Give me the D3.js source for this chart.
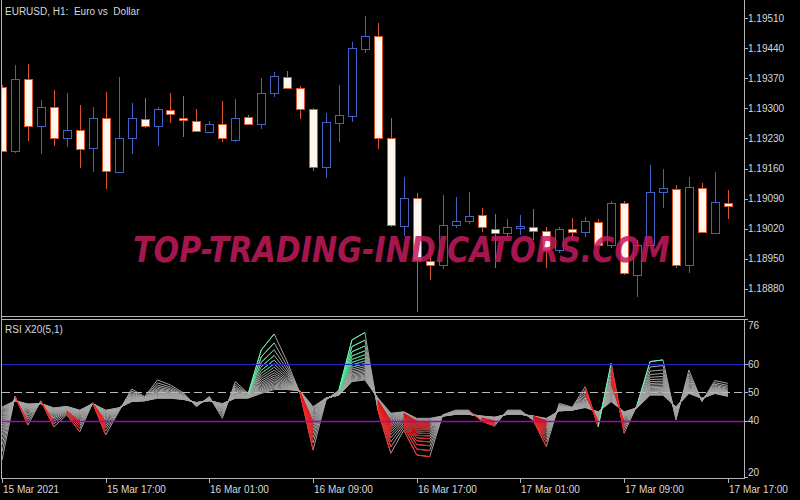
<!DOCTYPE html>
<html>
<meta charset="utf-8">
<style>
  body { margin: 0; background: #000; }
  svg { display: block; width: 800px; height: 500px; background: #000; }
  text { font-family: "Liberation Sans", Arial, sans-serif; font-size: 10px; fill: #d8d8d8; white-space: pre; }
</style>

<body>
  <svg></svg>
</body>

<script src="https://d3js.org/d3.v7.min.js"></script>

<script>

  // EURUSD H1, one entry per bar
  var open  = [1.19350, 1.19201, 1.19368, 1.19259, 1.19303, 1.19231, 1.19249, 1.19208, 1.19277, 1.19152,
               1.19231, 1.19275, 1.19259, 1.19296, 1.19277, 1.19270, 1.19245, 1.19263, 1.19226, 1.19280,
               1.19263, 1.19336, 1.19373, 1.19347, 1.19298, 1.19163, 1.19266, 1.19282, 1.19438, 1.19468,
               1.19231, 1.19026, 1.19091, 1.18945, 1.18936, 1.19029, 1.19038, 1.19052, 1.19019, 1.19010,
               1.19022, 1.19024, 1.19015, 1.18970, 1.19019, 1.19012, 1.19036, 1.18982, 1.19080, 1.18912,
               1.18982, 1.19105, 1.19112, 1.18936, 1.19115, 1.19010, 1.19080];
  var high  = [1.19354, 1.19401, 1.19403, 1.19319, 1.19343, 1.19336, 1.19308, 1.19303, 1.19338, 1.19373,
               1.19312, 1.19324, 1.19303, 1.19336, 1.19329, 1.19298, 1.19270, 1.19317, 1.19322, 1.19284,
               1.19370, 1.19384, 1.19387, 1.19352, 1.19300, 1.19289, 1.19354, 1.19454, 1.19515, 1.19498,
               1.19277, 1.19140, 1.19103, 1.18987, 1.19098, 1.19094, 1.19105, 1.19068, 1.19054, 1.19043,
               1.19052, 1.19066, 1.19024, 1.19024, 1.19045, 1.19047, 1.19043, 1.19084, 1.19084, 1.18994,
               1.19168, 1.19159, 1.19122, 1.19140, 1.19126, 1.19152, 1.19110];
  var low   = [1.19198, 1.19196, 1.19224, 1.19194, 1.19212, 1.19210, 1.19161, 1.19152, 1.19112, 1.19150,
               1.19194, 1.19254, 1.19212, 1.19266, 1.19233, 1.19245, 1.19242, 1.19222, 1.19222, 1.19261,
               1.19252, 1.19326, 1.19345, 1.19275, 1.19154, 1.19138, 1.19222, 1.19268, 1.19429, 1.19205,
               1.19024, 1.19003, 1.18826, 1.18901, 1.18926, 1.19022, 1.19031, 1.19012, 1.18929, 1.19001,
               1.19005, 1.18994, 1.18929, 1.18963, 1.18994, 1.19001, 1.18980, 1.18975, 1.18912, 1.18861,
               1.18980, 1.19068, 1.18929, 1.18917, 1.19010, 1.19008, 1.19043];
  var close = [1.19201, 1.19368, 1.19259, 1.19303, 1.19231, 1.19249, 1.19205, 1.19277, 1.19154, 1.19231,
               1.19277, 1.19259, 1.19298, 1.19287, 1.19273, 1.19247, 1.19263, 1.19231, 1.19277, 1.19263,
               1.19336, 1.19375, 1.19347, 1.19298, 1.19163, 1.19268, 1.19284, 1.19440, 1.19468, 1.19231,
               1.19029, 1.19091, 1.18947, 1.18936, 1.19029, 1.19038, 1.19050, 1.19024, 1.19010, 1.19024,
               1.19026, 1.19015, 1.18970, 1.19019, 1.19012, 1.19038, 1.18982, 1.19080, 1.18917, 1.18982,
               1.19105, 1.19115, 1.18936, 1.19117, 1.19012, 1.19082, 1.19073];

  var priceTicks = [1.18880, 1.18950, 1.19020, 1.19090, 1.19160, 1.19230, 1.19300, 1.19370, 1.19440, 1.19510];

  var timeIdx    = [0, 8, 16, 24, 32, 40, 48, 56];
  var timeLabels = ["15 Mar 2021", "15 Mar 17:00", "16 Mar 01:00", "16 Mar 09:00",
                    "16 Mar 17:00", "17 Mar 01:00", "17 Mar 09:00", "17 Mar 17:00"];

  // RSI X20: the fastest (period 5) and slowest (period 24) lines
  var rsiFast = [26.0, 48.7, 38.4, 47.0, 37.8, 42.0, 36.0, 46.3, 34.9, 43.1,
                 51.2, 48.5, 54.4, 52.6, 49.8, 44.9, 48.5, 40.8, 53.8, 49.6,
                 65.0, 70.7, 60.9, 49.6, 29.6, 47.3, 50.8, 68.6, 71.2, 43.7,
                 28.4, 36.6, 27.8, 27.2, 42.0, 43.7, 43.7, 39.9, 38.0, 43.7,
                 43.7, 40.0, 30.8, 46.1, 44.7, 52.0, 37.8, 60.3, 35.5, 45.5,
                 60.9, 61.5, 40.2, 57.9, 46.7, 54.2, 53.2];
  var rsiSlow = [44.8, 47.0, 45.9, 46.0, 44.5, 45.0, 43.7, 46.0, 43.7, 44.5,
                 46.7, 47.0, 47.9, 47.9, 47.5, 46.4, 47.0, 46.0, 47.9, 48.0,
                 49.6, 51.0, 51.0, 50.5, 44.9, 48.0, 49.0, 53.8, 54.4, 48.0,
                 42.6, 43.1, 40.8, 40.8, 41.6, 42.2, 42.2, 41.6, 41.2, 42.2,
                 42.2, 41.6, 40.8, 43.4, 43.7, 44.6, 43.1, 46.7, 43.1, 44.5,
                 49.0, 49.0, 44.9, 49.6, 47.9, 49.6, 48.6];
  var rsiPeriods = d3.range(5, 25);
  var rsiTicks = [76, 60, 50, 40, 20];
  var rsiLevels = [60, 50, 40];

  var bullCol = "#4262c4", bearCol = "#d9532b", bearFill = "#fff6ee";
  var frameCol = "#b4b4b4";

  var svg = d3.select("svg");

  var x  = d3.scaleLinear().domain([0, 56]).range([2, 727.8]);
  var yP = d3.scaleLinear().domain([1.18880, 1.19510]).range([288.9, 18]);
  var yR = d3.scaleLinear().domain([20, 76]).range([477, 319]);

  var defs = svg.append("defs");
  defs.append("clipPath").attr("id", "clipMain").append("rect")
    .attr("x", 2).attr("y", 0).attr("width", 742).attr("height", 316);
  defs.append("clipPath").attr("id", "clipInd").append("rect")
    .attr("x", 2).attr("y", 320).attr("width", 742).attr("height", 158);

  var px = function(v) { return Math.round(v) + 0.5; };

  // ---- candles
  var bars = d3.range(open.length);
  var main = svg.append("g").attr("clip-path", "url(#clipMain)");

  main.selectAll("line.wick").data(bars).enter().append("line")
    .attr("x1", function(i) { return px(x(i)); })
    .attr("x2", function(i) { return px(x(i)); })
    .attr("y1", function(i) { return Math.round(yP(high[i])); })
    .attr("y2", function(i) { return Math.round(yP(low[i])); })
    .attr("stroke", function(i) { return close[i] >= open[i] ? bullCol : bearCol; });

  main.selectAll("rect.body").data(bars).enter().append("rect")
    .attr("x", function(i) { return Math.round(x(i)) - 3.5; })
    .attr("width", 8)
    .attr("y", function(i) { return px(yP(Math.max(open[i], close[i]))); })
    .attr("height", function(i) {
      return Math.max(1, Math.round(yP(Math.min(open[i], close[i]))) - Math.round(yP(Math.max(open[i], close[i]))));
    })
    .attr("fill", function(i) { return close[i] >= open[i] ? "#000" : bearFill; })
    .attr("stroke", function(i) { return close[i] >= open[i] ? bullCol : bearCol; });

  svg.append("text")
    .attr("x", 5).attr("y", 15)
    .text("EURUSD, H1:  Euro vs  Dollar");

  // ---- indicator
  var ind = svg.append("g").attr("clip-path", "url(#clipInd)");

  var inv = function(p) { return 1 / Math.sqrt(p); };
  var weights = rsiPeriods.map(function(p) { return (inv(p) - inv(24)) / (inv(5) - inv(24)); });
  var rsiLines = weights.map(function(w) {
    return rsiFast.map(function(f, i) { return rsiSlow[i] + w * (f - rsiSlow[i]); });
  });

  var line = d3.line().x(function(d, i) { return x(i); }).y(function(d) { return yR(d); });

  ind.selectAll("path.rsi").data(rsiLines.slice().reverse()).enter().append("path")
    .attr("d", line)
    .attr("fill", "none")
    .attr("stroke", "#a4a4a4")
    .attr("stroke-width", 1);

  var greenScale = d3.interpolateRgb("#1c9a5a", "#5cffa8");
  var redScale = d3.interpolateRgb("#d01010", "#ff2020");
  var segs = [];
  rsiLines.forEach(function(vals, k) {
    for (var i = 1; i < vals.length; i++) {
      var up = vals[i] > vals[i - 1];
      if (up && vals[i] > 60) segs.push({ k: k, i: i, c: greenScale(weights[k]) });
      else if (!up && vals[i] < 40) segs.push({ k: k, i: i, c: redScale(weights[k]) });
    }
  });
  segs.sort(function(a, b) { return b.k - a.k; });

  ind.selectAll("line.seg").data(segs).enter().append("line")
    .attr("x1", function(d) { return x(d.i - 1); })
    .attr("x2", function(d) { return x(d.i); })
    .attr("y1", function(d) { return yR(rsiLines[d.k][d.i - 1]); })
    .attr("y2", function(d) { return yR(rsiLines[d.k][d.i]); })
    .attr("stroke", function(d) { return d.c; })
    .attr("stroke-width", 1);

  var levelStyle = { 60: ["#2424c8", null], 50: ["#b8b8b8", "8,4"], 40: ["#a008b4", null] };
  svg.selectAll("line.level").data(rsiLevels).enter().append("line")
    .attr("x1", 2).attr("x2", 744)
    .attr("y1", function(d) { return px(yR(d)); })
    .attr("y2", function(d) { return px(yR(d)); })
    .attr("stroke", function(d) { return levelStyle[d][0]; })
    .attr("stroke-width", function(d) { return d === 40 ? 1.4 : 1; })
    .attr("stroke-dasharray", function(d) { return levelStyle[d][1]; });

  svg.append("text")
    .attr("x", 5).attr("y", 333)
    .text("RSI X20(5,1)");

  // ---- frame
  var frame = svg.append("g").attr("stroke", frameCol).attr("fill", "none");
  frame.append("line").attr("x1", 1.5).attr("x2", 1.5).attr("y1", 0).attr("y2", 479);
  frame.append("line").attr("x1", 744.5).attr("x2", 744.5).attr("y1", 0).attr("y2", 317);
  frame.append("line").attr("x1", 1).attr("x2", 745).attr("y1", 316.5).attr("y2", 316.5);
  frame.append("line").attr("x1", 1).attr("x2", 745).attr("y1", 319.5).attr("y2", 319.5);
  frame.append("line").attr("x1", 744.5).attr("x2", 744.5).attr("y1", 319).attr("y2", 479);
  frame.append("line").attr("x1", 1).attr("x2", 745).attr("y1", 478.5).attr("y2", 478.5);

  // price axis
  var pAxis = svg.append("g");
  pAxis.selectAll("line").data(priceTicks).enter().append("line")
    .attr("x1", 744).attr("x2", 748)
    .attr("y1", function(d) { return px(yP(d)); })
    .attr("y2", function(d) { return px(yP(d)); })
    .attr("stroke", frameCol);
  pAxis.selectAll("text").data(priceTicks).enter().append("text")
    .attr("x", 748)
    .attr("y", function(d) { return yP(d) + 3.5; })
    .text(function(d) { return d3.format(".5f")(d); });

  // rsi axis
  var rAxis = svg.append("g");
  rAxis.selectAll("line").data(rsiTicks).enter().append("line")
    .attr("x1", 744).attr("x2", 748)
    .attr("y1", function(d) { return px(yR(d)); })
    .attr("y2", function(d) { return px(yR(d)); })
    .attr("stroke", frameCol);
  rAxis.selectAll("text").data(rsiTicks).enter().append("text")
    .attr("x", 748)
    .attr("y", function(d) {
      if (d === 76) return yR(d) + 10;
      if (d === 20) return yR(d) - 1;
      return yR(d) + 3.5;
    })
    .text(function(d) { return d; });

  // time axis
  var tAxis = svg.append("g");
  tAxis.selectAll("line").data(timeIdx).enter().append("line")
    .attr("x1", function(d) { return px(x(d)); })
    .attr("x2", function(d) { return px(x(d)); })
    .attr("y1", 478).attr("y2", 483)
    .attr("stroke", frameCol);
  tAxis.selectAll("text").data(timeIdx).enter().append("text")
    .attr("x", function(d) { return Math.round(x(d)) + 1; })
    .attr("y", 493)
    .text(function(d, i) { return timeLabels[i]; });

  // watermark, squeezed horizontally to its width in the reference
  var wm = svg.append("text")
    .attr("x", 0).attr("y", 0)
    .style("font-family", "'DejaVu Sans', sans-serif")
    .style("font-weight", "bold")
    .style("font-style", "italic")
    .style("font-size", "35px")
    .style("fill", "#c41a5c")
    .style("opacity", 0.85)
    .text("TOP-TRADING-INDICATORS.COM");
  var wmLen = wm.node().getComputedTextLength();
  wm.attr("transform", "translate(133,262) scale(" + (537 / wmLen) + ",1)");

</script>

</html>
